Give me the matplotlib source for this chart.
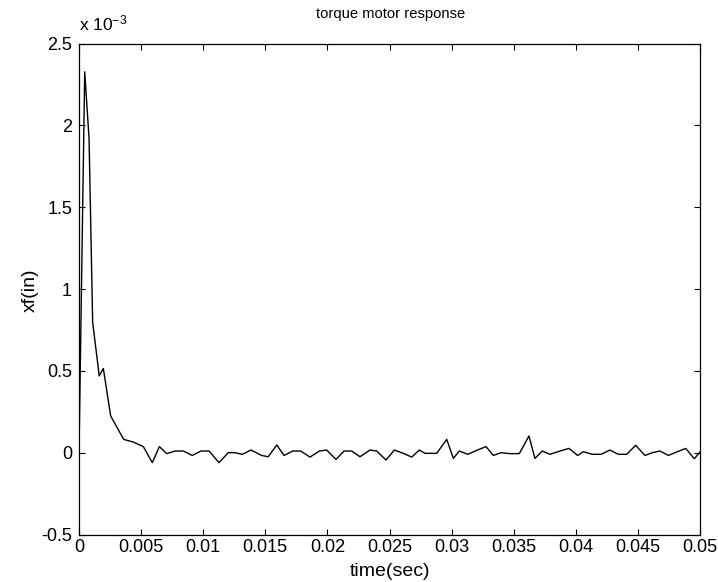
import matplotlib
matplotlib.use("Agg")
import matplotlib.pyplot as plt
import numpy as np
from matplotlib.ticker import FuncFormatter, MultipleLocator

plt.rcParams['font.family'] = ['Liberation Sans', 'DejaVu Sans']
plt.rcParams['mathtext.fontset'] = 'custom'
plt.rcParams['mathtext.rm'] = 'Liberation Sans'
plt.rcParams['mathtext.it'] = 'Liberation Sans'

# time in milliseconds (converted to seconds for plotting)
time_ms = [0, 0.46, 0.81, 1.10, 1.63, 1.96, 2.55, 3.60, 4.37, 5.18, 5.90, 6.47, 7.06,
           7.73, 8.40, 9.12, 9.82, 10.47, 11.27, 12.02, 12.56, 13.15, 13.85, 14.71,
           15.24, 15.92, 16.51, 17.21, 17.85, 18.60, 19.35, 19.94, 20.69, 21.34, 21.96,
           22.62, 23.43, 23.97, 24.72, 25.39, 26.11, 26.79, 27.40, 27.86, 28.80, 29.61,
           30.14, 30.62, 31.30, 32.02, 32.77, 33.36, 33.98, 34.70, 35.45, 36.23, 36.71,
           37.30, 37.92, 38.73, 39.45, 40.15, 40.60, 41.33, 42.03, 42.75, 43.42, 44.10,
           44.82, 45.57, 46.16, 46.78, 47.45, 48.12, 48.85, 49.54, 50.0]
# displacement xf in units of 1e-3 in
xf_milli = [0, 2.327, 1.918, 0.796, 0.469, 0.514, 0.224, 0.081, 0.065, 0.037, -0.061,
            0.037, -0.006, 0.010, 0.010, -0.017, 0.010, 0.010, -0.061, 0.0, 0.0, -0.010,
            0.016, -0.017, -0.025, 0.047, -0.017, 0.010, 0.010, -0.027, 0.010, 0.016,
            -0.041, 0.010, 0.010, -0.025, 0.016, 0.010, -0.045, 0.016, -0.004, -0.027,
            0.016, -0.004, -0.004, 0.081, -0.035, 0.010, -0.010, 0.014, 0.037, -0.017,
            0.0, -0.006, -0.006, 0.102, -0.035, 0.010, -0.010, 0.010, 0.026, -0.017,
            0.006, -0.010, -0.010, 0.016, -0.010, -0.010, 0.045, -0.017, 0.0, 0.010,
            -0.017, 0.004, 0.026, -0.037, 0.004]

t = np.array(time_ms) * 1e-3
xf = np.array(xf_milli) * 1e-3

W, H = 718, 582
fig = plt.figure(figsize=(W / 100, H / 100), dpi=100)
ax = fig.add_axes([79 / W, 1 - 534.5 / H, (700 - 79) / W, (534.5 - 43.5) / H])
ax.plot(t, xf, color='black', linewidth=1.0)

ax.set_xlim(0, 0.05)
ax.set_ylim(-0.5e-3, 2.5e-3)
ax.xaxis.set_major_locator(MultipleLocator(0.005))
ax.yaxis.set_major_locator(MultipleLocator(0.5e-3))
ax.xaxis.set_major_formatter(FuncFormatter(lambda v, p: f"{round(v, 4):g}"))
ax.yaxis.set_major_formatter(FuncFormatter(lambda v, p: f"{round(v*1e3, 2):g}"))
ax.tick_params(direction='in', length=4.5, width=0.8, top=True, right=True,
               labelsize=13, colors='black')
ax.tick_params(axis='y', pad=5)
ax.tick_params(axis='x', pad=3.5)
for s in ax.spines.values():
    s.set_linewidth(0.9)

fig.text(79 / W, 1 - 30 / H, r'x 10$^{\mathregular{-3}}$', fontsize=12.5,
         ha='left', va='baseline')
fig.text(391 / W, 1 - 18 / H, 'torque motor response', fontsize=10.6,
         ha='center', va='baseline')
fig.text(390 / W, 1 - 572 / H, 'time(sec)', fontsize=14, ha='center', va='center')
fig.text(30 / W, 1 - 290 / H, 'xf(in)', fontsize=14, ha='center', va='center',
         rotation=90)

fig.savefig('out.png', dpi=100)
